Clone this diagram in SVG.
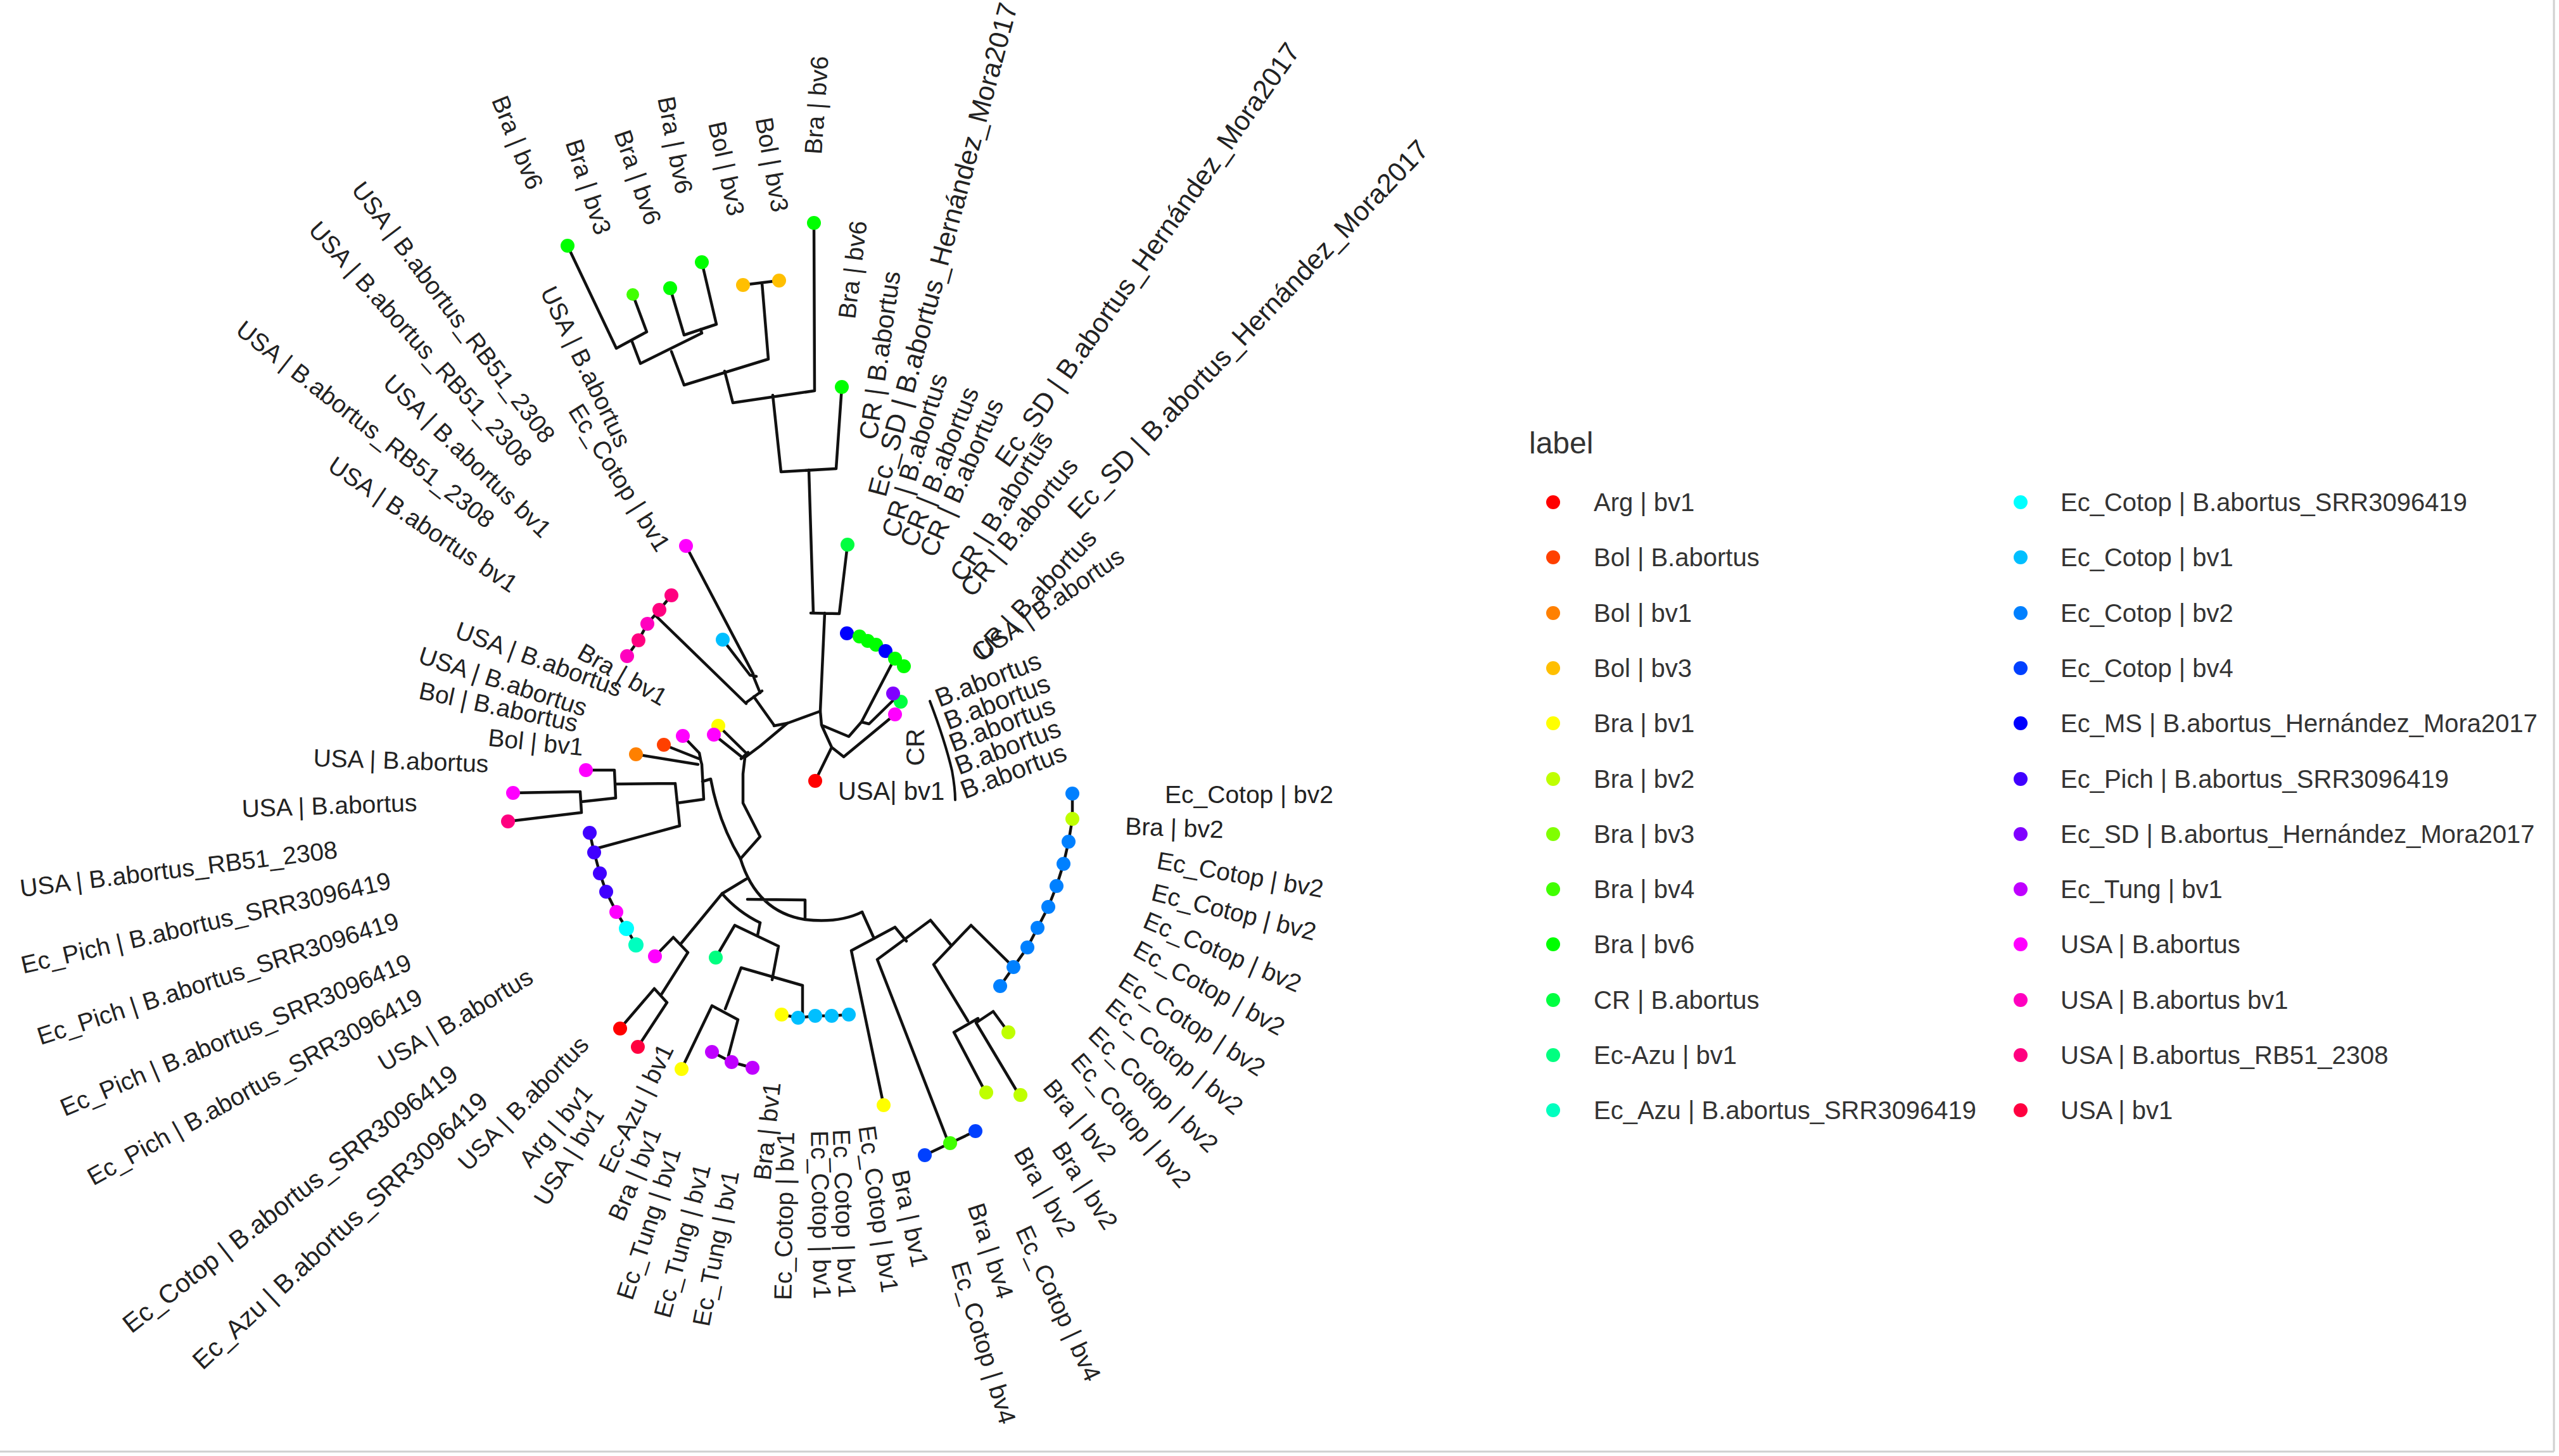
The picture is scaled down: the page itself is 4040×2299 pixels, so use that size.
<svg xmlns="http://www.w3.org/2000/svg" width="4040" height="2299" viewBox="0 0 4040 2299">
<style>
.t{font-family:"Liberation Sans",Arial,sans-serif;font-size:39px;fill:#222;text-anchor:middle;dominant-baseline:central}
.h{font-size:43px}
.c{font-size:41px}
.lg{font-family:"Liberation Sans",Arial,sans-serif;font-size:40px;fill:#333;dominant-baseline:central}
.br{fill:none;stroke:#111;stroke-width:4.5;stroke-linejoin:round;stroke-linecap:round}
</style>
<rect width="4040" height="2299" fill="#fff"/>
<line x1="4032" y1="0" x2="4032" y2="2292" stroke="#d0d0d0" stroke-width="3"/>
<line x1="0" y1="2292" x2="4032" y2="2292" stroke="#d0d0d0" stroke-width="3"/>

<g id="connectors" class="br">
<path d="M896,388L973,550M999,465L1021,524M973,550L1021,524M997,537L1011,574M1058,455L1080,529M1108,414L1131,512M1080,529L1131,512M1106,520L1108,526M1011,574L1108,526M1060,555L1080,608M1173,450L1230,443M1203,447L1213,567M1080,608L1213,567M1144,586L1157,636M1285,352L1286,617M1157,636L1286,617M1220,624L1233,745M1329,611L1320,740M1233,745L1320,740M1277,742L1284,968M1338,860L1325,969M1280,968L1325,969M1302,968L1295,1123"/>
<path d="M1222,1146L1243,1142L1295,1123M1295,1123L1297,1145L1340,1163L1360,1140L1407,1050M1360,1140L1372,1143L1413,1103M1297,1145L1313,1180L1287,1233M1313,1180L1332,1195L1413,1128M1337,1000L1357,1005L1370,1012L1383,1018L1398,1028L1413,1040L1427,1052"/>
<path d="M1083,862L1189,1064M1141,1010L1184,1066M1184,1066L1194,1068M1189,1067L1200,1094M1060,940L1041,963L1022,985L1008,1011L990,1036M1035,972L1178,1111M1177,1110L1203,1091M1190,1100L1222,1145"/>
<path d="M1134,1146L1179,1190M1127,1160L1172,1196M1170,1198L1181,1188M1243,1142L1200,1178L1176,1196M1176,1196L1173,1222L1173,1268L1200,1321L1169,1356"/>
<path d="M1078,1162L1104,1189M1048,1176L1106,1199M1104,1189L1106,1199M1004,1191L1102,1207M1105,1196L1108,1207L1111,1262M925,1216L970,1216L972,1260M810,1252L916,1250M802,1297L918,1283M916,1250L918,1283M917,1266L972,1260M971,1238L1066,1237M1066,1237L1073,1304M931,1315L938,1346L947,1379L957,1408L973,1440L989,1466L1004,1492M937,1341L1073,1304M1069,1268L1111,1262M1109,1234L1122,1230M1122,1230Q1135,1300 1169,1356"/>
<path d="M1169,1356Q1195,1440 1271,1452Q1325,1458 1361,1440M1271,1421L1271,1452M1180,1420L1271,1421M1140,1411Q1165,1440 1200,1457M1140,1411L1178,1388"/>
<path d="M1140,1411L1075,1490M1063,1480L1086,1504M1034,1510L1063,1480M1086,1504L1043,1572M1033,1561L1053,1583M979,1624L1033,1561M1007,1653L1053,1583"/>
<path d="M1130,1512L1160,1461M1160,1461L1229,1494M1196,1477L1200,1457M1229,1494L1219,1547M1170,1528L1267,1556M1170,1528L1145,1593M1124,1588L1165,1610M1076,1688L1124,1588M1165,1610L1150,1667M1124,1661L1155,1677L1188,1686M1267,1556L1267,1602M1234,1602L1260,1607L1287,1604L1313,1604L1340,1602"/>
<path d="M1361,1440L1380,1482M1344,1501L1413,1464M1344,1501L1395,1745M1413,1464L1431,1486M1385,1515L1469,1453M1385,1515L1498,1806M1460,1824L1500,1805L1540,1786M1469,1453L1502,1493M1474,1523L1533,1461M1533,1461L1600,1527M1693,1253L1693,1293L1687,1329L1679,1364L1668,1399L1655,1432L1638,1465L1622,1496L1600,1527L1579,1557M1474,1523L1528,1612M1506,1630L1544,1608M1506,1630L1554,1721M1541,1615L1568,1597M1541,1615L1609,1729M1568,1597L1592,1630"/>
<path d="M1468,1107Q1492,1170 1503,1217Q1508,1245 1508,1263" stroke-width="4"/>
</g>

<g id="tips">
<g id="tip-top">
<circle cx="896" cy="388" r="11" fill="#00FF00"/><circle cx="999" cy="465" r="10" fill="#40FF00"/><circle cx="1058" cy="455" r="11" fill="#00FF00"/><circle cx="1108" cy="414" r="11" fill="#00FF00"/><circle cx="1173" cy="450" r="11" fill="#FFBF00"/><circle cx="1230" cy="443" r="11" fill="#FFBF00"/><circle cx="1285" cy="352" r="11" fill="#00FF00"/><circle cx="1329" cy="611" r="11" fill="#00FF00"/><circle cx="1338" cy="860" r="11" fill="#00FF40"/>
</g>
<g id="tip-center">
<circle cx="1337" cy="1000" r="11" fill="#0000FF"/><circle cx="1357" cy="1005" r="11" fill="#00FF00"/><circle cx="1370" cy="1012" r="11" fill="#00FF00"/><circle cx="1383" cy="1018" r="11" fill="#00FF00"/><circle cx="1398" cy="1028" r="11" fill="#0000FF"/><circle cx="1413" cy="1040" r="11" fill="#00FF00"/><circle cx="1427" cy="1052" r="11" fill="#00FF00"/>
<circle cx="1422" cy="1108" r="11" fill="#00FF40"/><circle cx="1410" cy="1095" r="11" fill="#8000FF"/><circle cx="1413" cy="1128" r="11" fill="#FF00FF"/><circle cx="1287" cy="1233" r="11" fill="#FF0000"/>
</g>
<g id="tip-left">
<circle cx="1083" cy="862" r="11" fill="#FF00FF"/><circle cx="1141" cy="1010" r="11" fill="#00BFFF"/>
<circle cx="1060" cy="940" r="11" fill="#FF0080"/><circle cx="1041" cy="963" r="11" fill="#FF0080"/><circle cx="1022" cy="985" r="11" fill="#FF00BF"/><circle cx="1008" cy="1011" r="11" fill="#FF0080"/><circle cx="990" cy="1036" r="11" fill="#FF00BF"/>
<circle cx="1134" cy="1146" r="11" fill="#FFFF00"/><circle cx="1127" cy="1160" r="11" fill="#FF00FF"/><circle cx="1078" cy="1162" r="11" fill="#FF00FF"/><circle cx="1048" cy="1176" r="11" fill="#FF4000"/><circle cx="1004" cy="1191" r="11" fill="#FF8000"/>
<circle cx="925" cy="1216" r="11" fill="#FF00FF"/><circle cx="810" cy="1252" r="11" fill="#FF00FF"/><circle cx="802" cy="1297" r="11" fill="#FF0080"/>
<circle cx="931" cy="1315" r="11" fill="#4000FF"/><circle cx="938" cy="1346" r="11" fill="#4000FF"/><circle cx="947" cy="1379" r="11" fill="#4000FF"/><circle cx="957" cy="1408" r="11" fill="#4000FF"/><circle cx="973" cy="1440" r="11" fill="#FF00FF"/><circle cx="989" cy="1466" r="12" fill="#00FFFF"/><circle cx="1004" cy="1492" r="12" fill="#00FFBF"/>
</g>
<g id="tip-bottom">
<circle cx="1034" cy="1510" r="11" fill="#FF00FF"/><circle cx="979" cy="1624" r="11" fill="#FF0000"/><circle cx="1007" cy="1653" r="11" fill="#FF0040"/><circle cx="1130" cy="1512" r="11" fill="#00FF80"/>
<circle cx="1076" cy="1688" r="11" fill="#FFFF00"/><circle cx="1124" cy="1661" r="11" fill="#BF00FF"/><circle cx="1155" cy="1677" r="11" fill="#BF00FF"/><circle cx="1188" cy="1686" r="11" fill="#BF00FF"/>
<circle cx="1234" cy="1602" r="11" fill="#FFFF00"/><circle cx="1260" cy="1607" r="11" fill="#00BFFF"/><circle cx="1287" cy="1604" r="11" fill="#00BFFF"/><circle cx="1313" cy="1604" r="11" fill="#00BFFF"/><circle cx="1340" cy="1602" r="11" fill="#00BFFF"/>
<circle cx="1395" cy="1745" r="11" fill="#FFFF00"/><circle cx="1460" cy="1824" r="11" fill="#0040FF"/><circle cx="1500" cy="1805" r="11" fill="#40FF00"/><circle cx="1540" cy="1786" r="11" fill="#0040FF"/>
</g>
<g id="tip-right">
<circle cx="1557" cy="1725" r="11" fill="#BFFF00"/><circle cx="1611" cy="1729" r="11" fill="#BFFF00"/><circle cx="1592" cy="1630" r="11" fill="#BFFF00"/>
<circle cx="1693" cy="1253" r="11" fill="#0080FF"/><circle cx="1693" cy="1293" r="11" fill="#BFFF00"/><circle cx="1687" cy="1329" r="11" fill="#0080FF"/><circle cx="1679" cy="1364" r="11" fill="#0080FF"/><circle cx="1668" cy="1399" r="11" fill="#0080FF"/><circle cx="1655" cy="1432" r="11" fill="#0080FF"/><circle cx="1638" cy="1465" r="11" fill="#0080FF"/><circle cx="1622" cy="1496" r="11" fill="#0080FF"/><circle cx="1600" cy="1527" r="11" fill="#0080FF"/><circle cx="1579" cy="1557" r="11" fill="#0080FF"/>
</g>
</g>

<g id="labels">
<text class="t" transform="translate(817,225) rotate(68)">Bra | bv6</text>
<text class="t" transform="translate(929,295) rotate(72)">Bra | bv3</text>
<text class="t" transform="translate(1007,280) rotate(71)">Bra | bv6</text>
<text class="t" transform="translate(1066,229) rotate(79)">Bra | bv6</text>
<text class="t" transform="translate(1147,266) rotate(78)">Bol | bv3</text>
<text class="t" transform="translate(1219,260) rotate(80)">Bol | bv3</text>
<text class="t" transform="translate(1289,166) rotate(-86)">Bra | bv6</text>
<text class="t" transform="translate(1346,426) rotate(-83)">Bra | bv6</text>
<text class="t" transform="translate(716,493) rotate(53)">USA | B.abortus_RB51_2308</text>
<text class="t" transform="translate(664,543) rotate(48)">USA | B.abortus_RB51_2308</text>
<text class="t" transform="translate(738,720) rotate(44)">USA | B.abortus bv1</text>
<text class="t" transform="translate(577,670) rotate(38)">USA | B.abortus_RB51_2308</text>
<text class="t" transform="translate(668,828) rotate(34)">USA | B.abortus bv1</text>
<text class="t" transform="translate(925,579) rotate(64)">USA | B.abortus</text>
<text class="t" transform="translate(978,754) rotate(58)">Ec_Cotop | bv1</text>
<text class="t" transform="translate(851,1041) rotate(20)">USA | B.abortus</text>
<text class="t" transform="translate(983,1065) rotate(30)">Bra | bv1</text>
<text class="t" transform="translate(794,1076) rotate(18)">USA | B.abortus</text>
<text class="t" transform="translate(787,1116) rotate(12)">Bol | B.abortus</text>
<text class="t" transform="translate(846,1172) rotate(6)">Bol | bv1</text>
<text class="t" transform="translate(633,1201) rotate(2)">USA | B.abortus</text>
<text class="t" transform="translate(520,1272) rotate(-2)">USA | B.abortus</text>
<text class="t" transform="translate(282,1372) rotate(-7)">USA | B.abortus_RB51_2308</text>
<text class="t" transform="translate(325,1457) rotate(-13)">Ec_Pich | B.abortus_SRR3096419</text>
<text class="t" transform="translate(344,1545) rotate(-18)">Ec_Pich | B.abortus_SRR3096419</text>
<text class="t" transform="translate(372,1634) rotate(-23)">Ec_Pich | B.abortus_SRR3096419</text>
<text class="t" transform="translate(402,1716) rotate(-29)">Ec_Pich | B.abortus_SRR3096419</text>
<text class="t" transform="translate(719,1610) rotate(-31)">USA | B.abortus</text>
<text class="t c" transform="translate(458,1893) rotate(-38)">Ec_Cotop | B.abortus_SRR3096419</text>
<text class="t c" transform="translate(537,1943) rotate(-43)">Ec_Azu | B.abortus_SRR3096419</text>
<text class="t" transform="translate(826,1742) rotate(-46)">USA | B.abortus</text>
<text class="t" transform="translate(877,1778) rotate(-50)">Arg | bv1</text>
<text class="t" transform="translate(898,1826) rotate(-58)">USA | bv1</text>
<text class="t" transform="translate(1004,1750) rotate(-64)">Ec-Azu | bv1</text>
<text class="t" transform="translate(1002,1854) rotate(-67)">Bra | bv1</text>
<text class="t" transform="translate(1024,1932) rotate(-72)">Ec_Tung | bv1</text>
<text class="t" transform="translate(1077,1959) rotate(-75)">Ec_Tung | bv1</text>
<text class="t" transform="translate(1130,1971) rotate(-79)">Ec_Tung | bv1</text>
<text class="t" transform="translate(1211,1786) rotate(-84)">Bra | bv1</text>
<text class="t" transform="translate(1238,1920) rotate(-89)">Ec_Cotop | bv1</text>
<text class="t" transform="translate(1296,1918) rotate(89)">Ec_Cotop | bv1</text>
<text class="t" transform="translate(1333,1916) rotate(88)">Ec_Cotop | bv1</text>
<text class="t" transform="translate(1387,1909) rotate(82)">Ec_Cotop | bv1</text>
<text class="t" transform="translate(1437,1924) rotate(78)">Bra | bv1</text>
<text class="t" transform="translate(1564,1975) rotate(72)">Bra | bv4</text>
<text class="t" transform="translate(1553,2120) rotate(73)">Ec_Cotop | bv4</text>
<text class="t" transform="translate(1671,2058) rotate(65)">Ec_Cotop | bv4</text>
<text class="t" transform="translate(1650,1882) rotate(60)">Bra | bv2</text>
<text class="t" transform="translate(1713,1872) rotate(57)">Bra | bv2</text>
<text class="t" transform="translate(1705,1769) rotate(50)">Bra | bv2</text>
<text class="t" transform="translate(1786,1769) rotate(49)">Ec_Cotop | bv2</text>
<text class="t" transform="translate(1821,1720) rotate(44)">Ec_Cotop | bv2</text>
<text class="t" transform="translate(1854,1668) rotate(39)">Ec_Cotop | bv2</text>
<text class="t" transform="translate(1882,1617) rotate(33)">Ec_Cotop | bv2</text>
<text class="t" transform="translate(1909,1560) rotate(29)">Ec_Cotop | bv2</text>
<text class="t" transform="translate(1930,1503) rotate(23)">Ec_Cotop | bv2</text>
<text class="t" transform="translate(1948,1440) rotate(14)">Ec_Cotop | bv2</text>
<text class="t" transform="translate(1958,1381) rotate(10)">Ec_Cotop | bv2</text>
<text class="t" transform="translate(1854,1307) rotate(2)">Bra | bv2</text>
<text class="t" transform="translate(1972,1254)">Ec_Cotop | bv2</text>
<text class="t c" transform="translate(1389,561) rotate(-82)">CR | B.abortus</text>
<text class="t h" transform="translate(1488,394) rotate(-75)">Ec_SD | B.abortus_Hernández_Mora2017</text>
<text class="t c" transform="translate(1444,719) rotate(-73)">CR | B.abortus</text>
<text class="t c" transform="translate(1483,737) rotate(-68)">CR | B.abortus</text>
<text class="t c" transform="translate(1518,754) rotate(-66)">CR | B.abortus</text>
<text class="t h" transform="translate(1811,402) rotate(-55)">Ec_SD | B.abortus_Hernández_Mora2017</text>
<text class="t c" transform="translate(1581,800) rotate(-58)">CR | B.abortus</text>
<text class="t c" transform="translate(1609,832) rotate(-51)">CR | B.abortus</text>
<text class="t h" transform="translate(1970,520) rotate(-46.5)">Ec_SD | B.abortus_Hernández_Mora2017</text>
<text class="t c" transform="translate(1632,940) rotate(-47)">CR | B.abortus</text>
<text class="t" transform="translate(1657,953) rotate(-35)">USA | B.abortus</text>
<text class="t c" transform="translate(1445,1180) rotate(-90)">CR</text>
<text class="t c" style="text-anchor:start;dominant-baseline:auto" transform="translate(1483,1117) rotate(-21)">B.abortus</text>
<text class="t c" style="text-anchor:start;dominant-baseline:auto" transform="translate(1497,1153) rotate(-21)">B.abortus</text>
<text class="t c" style="text-anchor:start;dominant-baseline:auto" transform="translate(1505,1188) rotate(-21)">B.abortus</text>
<text class="t c" style="text-anchor:start;dominant-baseline:auto" transform="translate(1514,1224) rotate(-21)">B.abortus</text>
<text class="t c" style="text-anchor:start;dominant-baseline:auto" transform="translate(1523,1262) rotate(-21)">B.abortus</text>
<text class="t" style="font-size:40px;text-anchor:start;dominant-baseline:auto" x="1323" y="1263">USA| bv1</text>
</g>

<g id="legend">
<text class="lg" x="2414" y="716" style="font-size:48px;dominant-baseline:auto">label</text>
<g id="lg-1"><circle cx="2452" cy="793" r="11" fill="#FF0000"/><text class="lg" x="2516" y="793">Arg | bv1</text></g>
<g id="lg-2"><circle cx="2452" cy="880" r="11" fill="#FF4000"/><text class="lg" x="2516" y="880">Bol | B.abortus</text></g>
<g id="lg-3"><circle cx="2452" cy="968" r="11" fill="#FF8000"/><text class="lg" x="2516" y="968">Bol | bv1</text></g>
<g id="lg-4"><circle cx="2452" cy="1055" r="11" fill="#FFBF00"/><text class="lg" x="2516" y="1055">Bol | bv3</text></g>
<g id="lg-5"><circle cx="2452" cy="1142" r="11" fill="#FFFF00"/><text class="lg" x="2516" y="1142">Bra | bv1</text></g>
<g id="lg-6"><circle cx="2452" cy="1230" r="11" fill="#BFFF00"/><text class="lg" x="2516" y="1230">Bra | bv2</text></g>
<g id="lg-7"><circle cx="2452" cy="1317" r="11" fill="#80FF00"/><text class="lg" x="2516" y="1317">Bra | bv3</text></g>
<g id="lg-8"><circle cx="2452" cy="1404" r="11" fill="#40FF00"/><text class="lg" x="2516" y="1404">Bra | bv4</text></g>
<g id="lg-9"><circle cx="2452" cy="1491" r="11" fill="#00FF00"/><text class="lg" x="2516" y="1491">Bra | bv6</text></g>
<g id="lg-10"><circle cx="2452" cy="1579" r="11" fill="#00FF40"/><text class="lg" x="2516" y="1579">CR | B.abortus</text></g>
<g id="lg-11"><circle cx="2452" cy="1666" r="11" fill="#00FF80"/><text class="lg" x="2516" y="1666">Ec-Azu | bv1</text></g>
<g id="lg-12"><circle cx="2452" cy="1753" r="11" fill="#00FFBF"/><text class="lg" x="2516" y="1753">Ec_Azu | B.abortus_SRR3096419</text></g>
<g id="lg-13"><circle cx="3190" cy="793" r="11" fill="#00FFFF"/><text class="lg" x="3253" y="793">Ec_Cotop | B.abortus_SRR3096419</text></g>
<g id="lg-14"><circle cx="3190" cy="880" r="11" fill="#00BFFF"/><text class="lg" x="3253" y="880">Ec_Cotop | bv1</text></g>
<g id="lg-15"><circle cx="3190" cy="968" r="11" fill="#0080FF"/><text class="lg" x="3253" y="968">Ec_Cotop | bv2</text></g>
<g id="lg-16"><circle cx="3190" cy="1055" r="11" fill="#0040FF"/><text class="lg" x="3253" y="1055">Ec_Cotop | bv4</text></g>
<g id="lg-17"><circle cx="3190" cy="1142" r="11" fill="#0000FF"/><text class="lg" x="3253" y="1142">Ec_MS | B.abortus_Hernández_Mora2017</text></g>
<g id="lg-18"><circle cx="3190" cy="1230" r="11" fill="#4000FF"/><text class="lg" x="3253" y="1230">Ec_Pich | B.abortus_SRR3096419</text></g>
<g id="lg-19"><circle cx="3190" cy="1317" r="11" fill="#8000FF"/><text class="lg" x="3253" y="1317">Ec_SD | B.abortus_Hernández_Mora2017</text></g>
<g id="lg-20"><circle cx="3190" cy="1404" r="11" fill="#BF00FF"/><text class="lg" x="3253" y="1404">Ec_Tung | bv1</text></g>
<g id="lg-21"><circle cx="3190" cy="1491" r="11" fill="#FF00FF"/><text class="lg" x="3253" y="1491">USA | B.abortus</text></g>
<g id="lg-22"><circle cx="3190" cy="1579" r="11" fill="#FF00BF"/><text class="lg" x="3253" y="1579">USA | B.abortus bv1</text></g>
<g id="lg-23"><circle cx="3190" cy="1666" r="11" fill="#FF0080"/><text class="lg" x="3253" y="1666">USA | B.abortus_RB51_2308</text></g>
<g id="lg-24"><circle cx="3190" cy="1753" r="11" fill="#FF0040"/><text class="lg" x="3253" y="1753">USA | bv1</text></g>
</g>
</svg>
